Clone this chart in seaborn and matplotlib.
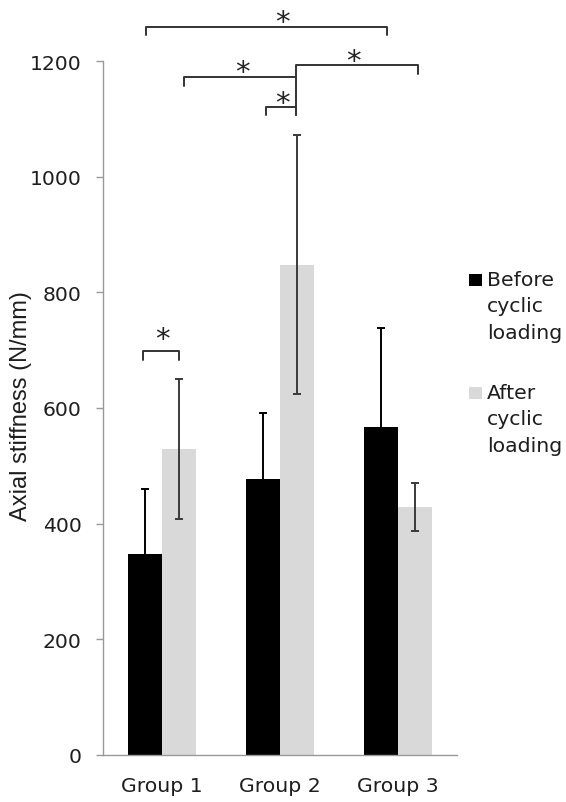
import matplotlib
matplotlib.use("Agg")
import matplotlib.pyplot as plt
import seaborn as sns
import pandas as pd
import numpy as np
from matplotlib.patches import Rectangle

groups = ["Group 1", "Group 2", "Group 3"]
conditions = ["Before cyclic loading", "After cyclic loading"]
before_mean = [347, 477, 568]
before_err = [113, 114, 171]
after_mean = [529, 848, 429]
after_err = [121, 224, 42]
yticks = [0, 200, 400, 600, 800, 1000, 1200]

# significance brackets: (x_left, x_right, y, left drop, right drop)
brackets = [
    (-0.158, 0.144, 699, 683, 683),
    (-0.138, 1.909, 1259, 1245, 1245),
    (0.189, 1.133, 1173, 1156, None),
    (1.133, 2.172, 1193, None, 1177),
    (0.879, 1.133, 1120, 1106, 1106),
]
star_pos = [(0.0, 728), (1.02, 1276), (0.68, 1190), (1.62, 1209), (1.02, 1136)]

sns.set_style("white")
plt.rcParams["font.family"] = ["DejaVu Sans"]

df = pd.DataFrame({
    "group": groups * 2,
    "condition": [conditions[0]] * 3 + [conditions[1]] * 3,
    "value": before_mean + after_mean,
})

FS = 14.7
TXT = "#1e1e1e"
fig = plt.figure(figsize=(5.66, 8.03), dpi=100)
ax = fig.add_axes([103 / 566, 1 - 756 / 803, (457 - 103) / 566, (756 - 62) / 803])

palette = {conditions[0]: "#000000", conditions[1]: "#d9d9d9"}
sns.barplot(data=df, x="group", y="value", hue="condition", palette=palette,
            errorbar=None, width=0.57, gap=0, linewidth=0, ax=ax, legend=False)

# error bars
off = 0.57 / 4
xs = np.arange(len(groups))
ax.errorbar(xs - off, before_mean, yerr=before_err, fmt="none", ecolor="#000000",
            elinewidth=1.4, capsize=3.2, capthick=1.4, zorder=3)
ax.errorbar(xs + off, after_mean, yerr=after_err, fmt="none", ecolor="#3a3a3a",
            elinewidth=1.4, capsize=3.2, capthick=1.4, zorder=3)

ax.set_xlim(-0.5, 2.5)
ax.set_ylim(0, 1200)
ax.set_yticks(yticks)
ax.set_yticklabels([str(t) for t in yticks], fontsize=FS, color=TXT)
ax.set_xticks(xs)
ax.set_xticklabels(groups, fontsize=FS, color=TXT)
ax.set_xticks([-0.5, 0.5, 1.5, 2.5], minor=True)
ax.tick_params(axis="x", which="major", length=0, pad=15)
ax.tick_params(axis="x", which="minor", length=5, color="#999999", width=1)
ax.tick_params(axis="y", length=5, color="#999999", width=1, pad=10.5, left=True)
ax.set_xlabel("")
ax.set_ylabel("")
for s in ["top", "right"]:
    ax.spines[s].set_visible(False)
for s in ["left", "bottom"]:
    ax.spines[s].set_color("#999999")
    ax.spines[s].set_linewidth(1)

fig.text(21 / 566, 1 - 406 / 803, "Axial stiffness (N/mm)", rotation=90,
         ha="center", va="center", fontsize=17,
         family=["Liberation Sans Narrow", "Liberation Sans", "DejaVu Sans"], color=TXT)

# brackets
for xl, xr, y, dl, dr in brackets:
    ax.plot([xl, xr], [y, y], color="#333333", lw=1.4, clip_on=False, solid_capstyle="butt")
    if dl is not None:
        ax.plot([xl, xl], [y, dl], color="#333333", lw=1.4, clip_on=False)
    if dr is not None:
        ax.plot([xr, xr], [y, dr], color="#333333", lw=1.4, clip_on=False)
# vertical connector of group-2 brackets
ax.plot([1.133, 1.133], [1193, 1106], color="#333333", lw=1.4, clip_on=False)

SFS = 21
for x, y in star_pos:
    ax.annotate("*", (x, y), xytext=(0, -0.45 * SFS), textcoords="offset points",
                ha="center", va="baseline", fontsize=SFS, color="#222222",
                annotation_clip=False)

# legend (baseline of the first line given in pixels)
LINE = 26
leg_items = [("Before\ncyclic\nloading", "#000000", 287), ("After\ncyclic\nloading", "#d9d9d9", 400)]
for label, col, base in leg_items:
    fig.patches.append(Rectangle((469 / 566, 1 - base / 803), 13 / 566, 12 / 803,
                                 transform=fig.transFigure, facecolor=col, edgecolor="none"))
    fig.text(487 / 566, 1 - (base + 2 * LINE) / 803, label, ha="left", va="baseline",
             fontsize=FS, linespacing=1.5, color=TXT, multialignment="left")

fig.savefig("out.png", dpi=100)
